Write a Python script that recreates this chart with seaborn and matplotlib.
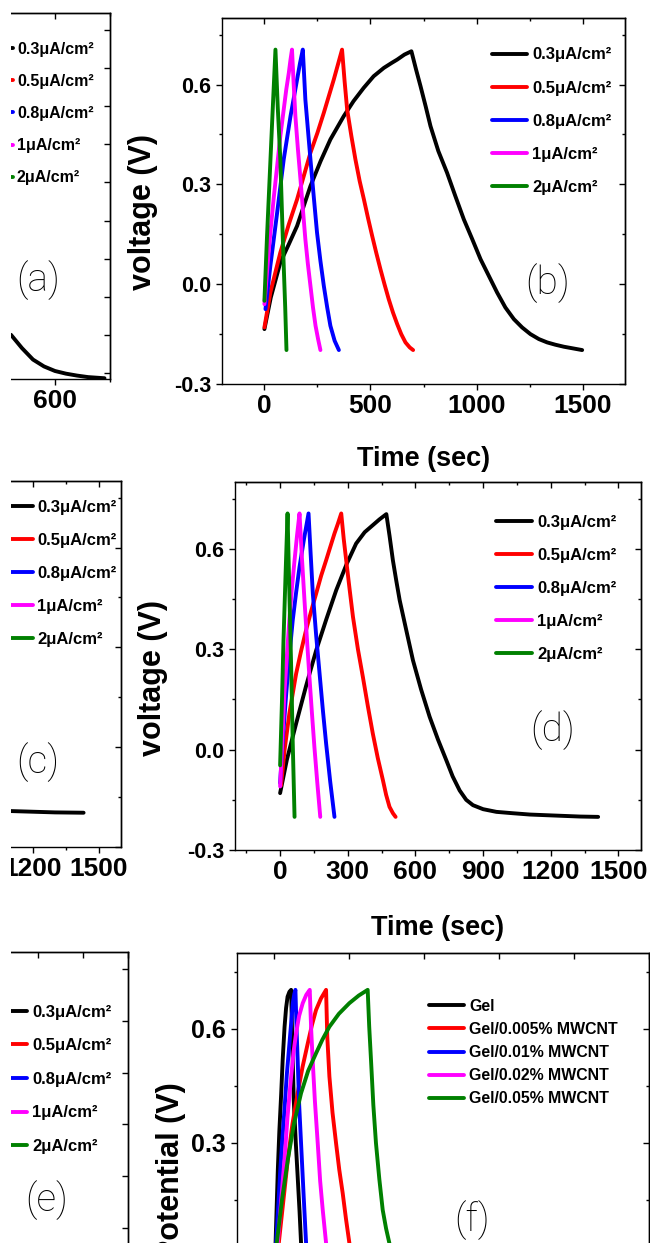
import matplotlib
matplotlib.use('Agg')
import matplotlib.pyplot as plt
from matplotlib.ticker import MultipleLocator
from matplotlib.lines import Line2D
from matplotlib.patches import Rectangle
import pandas as pd
import seaborn as sns

sns.set_theme(style='ticks', rc={'axes.edgecolor': 'black', 'xtick.color': 'black',
                                 'ytick.color': 'black', 'text.color': 'black',
                                 'axes.labelcolor': 'black'})
plt.rcParams['font.family'] = ['Liberation Sans', 'DejaVu Sans']
plt.rcParams['font.weight'] = 'bold'
plt.rcParams['axes.unicode_minus'] = False

W, H = 650, 1243

# ---- data ----
current_labels = ['0.3μA/cm²', '0.5μA/cm²', '0.8μA/cm²', '1μA/cm²', '2μA/cm²']
gel_labels = ['Gel', 'Gel/0.005% MWCNT', 'Gel/0.01% MWCNT', 'Gel/0.02% MWCNT', 'Gel/0.05% MWCNT']
colors = ['#000000', '#ff0000', '#0000ff', '#ff00ff', '#008000']
gel_colors = ['#000000', '#ff0000', '#0000ff', '#ff00ff', '#008000']

# panel (a): only the tail of the 0.3 curve is visible
a_t_03 = [520, 540, 560, 580, 600, 620, 640, 660, 680, 690]
a_v_03 = [-0.10, -0.135, -0.165, -0.183, -0.195, -0.202, -0.207, -0.211, -0.213, -0.214]

# panel (b)
b_t_03 = [0, 30, 75, 115, 154, 217, 265, 311, 374, 420, 468, 515, 563, 600, 626, 660, 693,
          715, 736, 760, 783, 820, 861, 900, 940, 980, 1019, 1058, 1097, 1136, 1176, 1215,
          1254, 1294, 1333, 1372, 1412, 1455, 1498]
b_v_03 = [-0.135, -0.04, 0.065, 0.12, 0.175, 0.295, 0.37, 0.435, 0.505, 0.55, 0.59, 0.625,
          0.65, 0.665, 0.675, 0.69, 0.70,
          0.645, 0.595, 0.535, 0.475, 0.40, 0.335, 0.265, 0.195, 0.135, 0.075, 0.025, -0.025,
          -0.07, -0.105, -0.13, -0.15, -0.165, -0.175, -0.182, -0.188, -0.193, -0.198]
b_t_05 = [0, 28, 75, 115, 154, 217, 250, 280, 327, 366, 378, 390, 410, 429, 449, 469, 488,
          508, 527, 547, 566, 586, 606, 626, 645, 665, 685, 701]
b_v_05 = [-0.13, -0.025, 0.095, 0.18, 0.255, 0.395, 0.455, 0.515, 0.615, 0.705, 0.61, 0.525,
          0.445, 0.375, 0.31, 0.255, 0.20, 0.145, 0.095, 0.045, 0.0, -0.045, -0.085, -0.12,
          -0.15, -0.175, -0.19, -0.198]
b_t_08 = [5, 28, 60, 91, 123, 140, 154, 168, 181, 187, 193, 205, 217, 233, 248, 264, 280,
          296, 311, 331, 351]
b_v_08 = [-0.075, 0.055, 0.215, 0.375, 0.505, 0.565, 0.615, 0.665, 0.705, 0.63, 0.555,
          0.465, 0.375, 0.26, 0.155, 0.07, -0.005, -0.07, -0.125, -0.17, -0.198]
b_t_1 = [0, 14, 28, 44, 60, 75, 91, 103, 115, 123, 130, 138, 146, 158, 170, 182, 193, 205,
         217, 229, 241, 253, 264]
b_v_1 = [-0.06, 0.05, 0.155, 0.26, 0.355, 0.445, 0.525, 0.585, 0.635, 0.675, 0.705, 0.60,
         0.505, 0.405, 0.315, 0.22, 0.135, 0.06, -0.005, -0.07, -0.125, -0.165, -0.198]
b_t_2 = [0, 12, 25, 38, 52, 63, 75, 83, 91, 98, 104]
b_v_2 = [-0.05, 0.14, 0.325, 0.51, 0.705, 0.53, 0.375, 0.21, 0.055, -0.07, -0.198]

# panel (c): only the flat tail of the 0.3 curve is visible
c_t_03 = [1100, 1200, 1300, 1430]
c_v_03 = [-0.192, -0.194, -0.196, -0.197]

# panel (d)
d_t_03 = [0, 30, 71, 115, 160, 205, 249, 295, 337, 375, 411, 440, 471,
          485, 500, 515, 530, 560, 589, 625, 663, 700, 737, 765, 796, 825, 855, 900, 959,
          1030, 1107, 1180, 1255, 1330, 1410]
d_v_03 = [-0.13, -0.03, 0.078, 0.19, 0.297, 0.39, 0.477, 0.555, 0.616, 0.65, 0.671, 0.688,
          0.704, 0.64, 0.566, 0.505, 0.447, 0.355, 0.267, 0.18, 0.098, 0.03, -0.032, -0.08,
          -0.122, -0.15, -0.166, -0.178, -0.186, -0.19, -0.194, -0.196, -0.198, -0.2, -0.201]
d_t_05 = [4, 20, 41, 71, 93, 115, 138, 160, 182, 204, 222, 241, 256, 271, 282, 293, 308, 323,
          345, 367, 389, 411, 433, 456, 470, 485, 500, 512]
d_v_05 = [-0.107, 0.0, 0.108, 0.227, 0.295, 0.357, 0.415, 0.467, 0.52, 0.566, 0.605, 0.646,
          0.675, 0.706, 0.63, 0.566, 0.48, 0.397, 0.30, 0.217, 0.13, 0.048, -0.025, -0.092,
          -0.135, -0.171, -0.19, -0.201]
d_t_08 = [0, 13, 27, 41, 56, 71, 86, 106, 126, 135, 145, 160, 175, 190, 204, 222, 241]
d_v_08 = [-0.10, 0.04, 0.167, 0.28, 0.387, 0.47, 0.546, 0.63, 0.706, 0.59, 0.467, 0.34,
          0.227, 0.115, 0.018, -0.095, -0.201]
d_t_1 = [0, 10, 19, 30, 41, 52, 64, 75, 86, 97, 108, 119, 130, 141, 152, 165, 178]
d_v_1 = [-0.11, 0.03, 0.167, 0.28, 0.387, 0.48, 0.566, 0.64, 0.706, 0.57, 0.447, 0.33,
         0.217, 0.11, 0.008, -0.1, -0.201]
d_t_2 = [0, 8, 15, 24, 33, 41, 49, 56, 64]
d_v_2 = [-0.047, 0.14, 0.327, 0.52, 0.706, 0.47, 0.247, 0.02, -0.201]

# panel (f)
f_t_gel = [0, 4, 9, 13, 18, 22, 27, 31, 35, 40, 44.5, 48, 51.5, 57, 62, 67, 71, 80]
f_v_gel = [-0.06, 0.07, 0.23, 0.33, 0.43, 0.52, 0.606, 0.655, 0.685, 0.698, 0.703, 0.55,
           0.413, 0.30, 0.211, 0.12, 0.037, -0.10]
f_t_005 = [0, 11.6, 24, 35.5, 48, 62, 75, 88.9, 100, 111, 124, 137.8,
           141, 146.7, 155, 164.4, 173, 182.2, 191, 200, 215]
f_v_005 = [-0.06, 0.037, 0.15, 0.255, 0.35, 0.431, 0.50, 0.562, 0.61, 0.65, 0.68, 0.703,
           0.58, 0.475, 0.38, 0.30, 0.23, 0.168, 0.10, 0.037, -0.06]
f_t_01 = [0, 4.4, 10, 15, 21, 26.7, 33, 40, 45, 49, 53, 56, 59, 62, 66, 71, 75, 78, 84.4, 92]
f_v_01 = [-0.03, 0.037, 0.13, 0.22, 0.31, 0.387, 0.48, 0.562, 0.62, 0.668, 0.692, 0.703,
          0.60, 0.518, 0.40, 0.30, 0.22, 0.16, 0.037, -0.08]
f_t_02 = [0, 8.9, 18, 26.7, 35, 44.5, 51, 57.8, 66, 75.5, 85, 94.2,
          98, 102, 108, 115.5, 122, 128.9, 137.8, 148]
f_v_02 = [-0.06, 0.037, 0.15, 0.255, 0.37, 0.475, 0.54, 0.589, 0.635, 0.668, 0.69, 0.703,
          0.60, 0.518, 0.41, 0.30, 0.20, 0.124, 0.037, -0.05]
f_t_05 = [0, 6.2, 20, 35.5, 52, 71, 90, 111, 128, 146.7, 172, 200, 225, 248.9,
          253, 257.8, 264, 271, 280, 289, 298, 306.7, 320]
f_v_05 = [-0.03, 0.037, 0.15, 0.255, 0.35, 0.431, 0.49, 0.536, 0.572, 0.606, 0.64, 0.668,
          0.688, 0.703, 0.606, 0.518, 0.40, 0.30, 0.205, 0.124, 0.075, 0.037, -0.05]


fig = plt.figure(figsize=(W / 100, H / 100), dpi=100)


def px_axes(l, t, r, b):
    return fig.add_axes([l / W, 1 - b / H, (r - l) / W, (b - t) / H])


def draw(ax, names, ts, vs, cols):
    df = pd.concat([pd.DataFrame({'t': t, 'v': v, 'series': n}) for n, t, v in zip(names, ts, vs)])
    sns.lineplot(data=df, x='t', y='v', hue='series', palette=dict(zip(names, cols)),
                 estimator=None, sort=False, lw=2.8, legend=False, ax=ax)
    ax.set_xlabel('')
    ax.set_ylabel('')


def frame(ax, xlim, ylim, xmaj, xmin, ymaj, ymin, left=True, xsize=19, ysize=15.5,
          xlabels=True):
    ax.set_xlim(xlim)
    ax.set_ylim(ylim)
    ax.xaxis.set_major_locator(MultipleLocator(xmaj))
    ax.xaxis.set_minor_locator(MultipleLocator(xmin))
    ax.yaxis.set_major_locator(MultipleLocator(ymaj))
    ax.yaxis.set_minor_locator(MultipleLocator(ymin))
    ax.tick_params(which='both', direction='out', width=1, top=False, right=False)
    ax.tick_params(which='major', length=4.3)
    ax.tick_params(which='minor', length=2.5)
    ax.tick_params(axis='x', labelsize=xsize, pad=3, labelbottom=xlabels)
    ax.tick_params(axis='y', labelsize=ysize, pad=3.5)
    for s in ax.spines.values():
        s.set_color('black')
        s.set_linewidth(1)
    if not left:
        ax.spines['left'].set_visible(False)
        ax.tick_params(axis='y', which='both', left=False, labelleft=False)
    top = ax.secondary_xaxis('top')
    top.xaxis.set_major_locator(MultipleLocator(xmaj))
    top.xaxis.set_minor_locator(MultipleLocator(xmin))
    top.tick_params(which='both', direction='in', labeltop=False, width=1)
    top.tick_params(which='major', length=4.3)
    top.tick_params(which='minor', length=2.5)
    right = ax.secondary_yaxis('right')
    right.yaxis.set_major_locator(MultipleLocator(ymaj))
    right.yaxis.set_minor_locator(MultipleLocator(ymin))
    right.tick_params(which='both', direction='in', labelright=False, width=1)
    right.tick_params(which='major', length=4.3)
    right.tick_params(which='minor', length=2.5)
    for sec in (top, right):
        for s in sec.spines.values():
            s.set_linewidth(1)
            s.set_color('black')


def legend(ax, labels, cols, x_left, y_first, fs=12, pitch=34, hl=35, pad=5):
    fs_px = fs * 100 / 72
    handles = [Line2D([], [], color=c, lw=2.8) for c in cols]
    top = y_first - 0.33 * fs_px
    ax.legend(handles, labels, loc='upper left', bbox_to_anchor=(x_left / W, 1 - top / H),
              bbox_transform=fig.transFigure, frameon=False, borderpad=0, borderaxespad=0,
              handlelength=hl / fs_px, handletextpad=pad / fs_px,
              labelspacing=pitch / fs_px - 0.95, prop={'size': fs, 'weight': 'bold'})


def letter(x, y, s):
    fig.text(x / W, 1 - y / H, s, ha='center', va='center', fontsize=28,
             family=['Roboto', 'Lato', 'DejaVu Sans'], fontweight='light')


ylab_font = {'family': ['Liberation Sans', 'DejaVu Sans'], 'weight': 'bold', 'size': 22}

# (a)
ax_a = px_axes(11, 13, 110, 379)
draw(ax_a, current_labels[:1], [a_t_03], [a_v_03], colors[:1])
frame(ax_a, (520, 700), (-0.216, 0.745), 200, 100, 0.1, 0.1, left=False)
legend(ax_a, current_labels, colors, -21.5, 47, fs=11.5, pitch=32.3, hl=35, pad=3.5)

# (b)
ax_b = px_axes(222, 18, 625, 384)
draw(ax_b, current_labels, [b_t_03, b_t_05, b_t_08, b_t_1, b_t_2],
     [b_v_03, b_v_05, b_v_08, b_v_1, b_v_2], colors)
frame(ax_b, (-200, 1700), (-0.3, 0.8), 500, 250, 0.3, 0.15)
legend(ax_b, current_labels, colors, 492, 53)
ax_b.set_ylabel('voltage (V)', fontdict=ylab_font, va='center')
ax_b.yaxis.set_label_coords(-0.196, 0.47)
ax_b.set_xlabel('Time (sec)', fontsize=19.5, fontweight='bold', va='center')
ax_b.xaxis.set_label_coords(0.5, -0.205)

# (c)
ax_c = px_axes(11, 481, 121, 847)
draw(ax_c, current_labels[:1], [c_t_03], [c_v_03], colors[:1])
frame(ax_c, (1100, 1600), (-0.3, 0.8), 300, 150, 0.3, 0.15, left=False)
legend(ax_c, current_labels, colors, -2, 505, hl=35, pad=4)

# (d)
ax_d = px_axes(235, 482, 641, 850)
draw(ax_d, current_labels, [d_t_03, d_t_05, d_t_08, d_t_1, d_t_2],
     [d_v_03, d_v_05, d_v_08, d_v_1, d_v_2], colors)
frame(ax_d, (-200, 1600), (-0.3, 0.8), 300, 150, 0.3, 0.15)
legend(ax_d, current_labels, colors, 496, 520, hl=36)
ax_d.set_ylabel('voltage (V)', fontdict=ylab_font, va='center')
ax_d.yaxis.set_label_coords(-0.202, 0.467)
ax_d.set_xlabel('Time (sec)', fontsize=19.5, fontweight='bold', va='center')
ax_d.xaxis.set_label_coords(0.5, -0.212)

# (e): only the legend corner is visible
ax_e = px_axes(11, 952, 128, 1331)
frame(ax_e, (1140, 1400), (-0.3, 0.8), 100, 100, 0.15, 0.15, left=False, xlabels=False)
legend(ax_e, current_labels, colors, -8, 1010, pitch=34.5, hl=35, pad=5)

# (f)
ax_f = px_axes(237, 953, 649, 1371)
draw(ax_f, gel_labels, [f_t_gel, f_t_005, f_t_01, f_t_02, f_t_05],
     [f_v_gel, f_v_005, f_v_01, f_v_02, f_v_05], gel_colors)
frame(ax_f, (-100, 1000), (-0.3, 0.8), 200, 200, 0.3, 0.15, ysize=18, xlabels=False)
legend(ax_f, gel_labels, gel_colors, 429, 1004, fs=11.4, pitch=23.2, hl=35, pad=5)
ax_f.set_ylabel('Potential (V)', fontdict=ylab_font, va='center')
ax_f.yaxis.set_label_coords(-0.16, 0.478)

letter(38, 280, '(a)')
letter(548, 283, '(b)')
letter(38, 762, '(c)')
letter(553, 730, '(d)')
letter(47, 1200, '(e)')
letter(472, 1220, '(f)')

# white strip: the picture is cut just left of the left-column frames
fig.add_artist(Rectangle((0, 0), 11 / W, 1, transform=fig.transFigure,
                         facecolor='white', edgecolor='none', zorder=10))

fig.savefig('out.png', dpi=100)
